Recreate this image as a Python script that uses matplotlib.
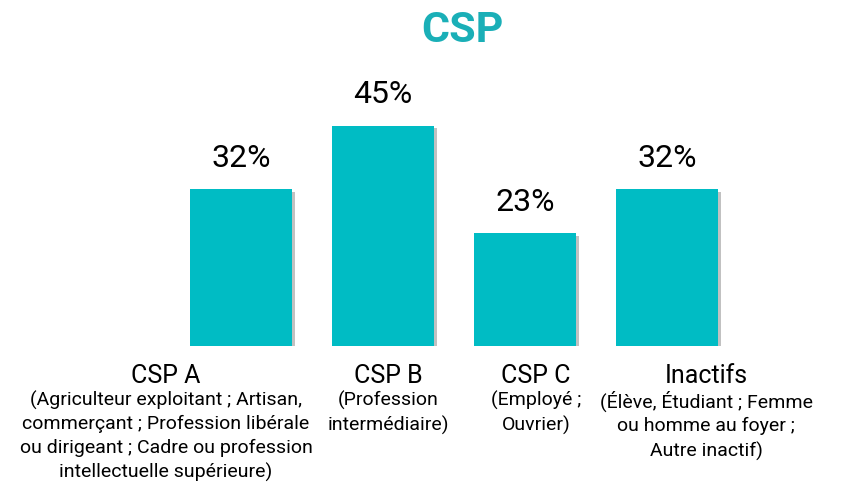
import matplotlib
matplotlib.use("Agg")
import matplotlib.pyplot as plt
import matplotlib.patheffects as pe

categories = ["CSP A", "CSP B", "CSP C", "Inactifs"]
subtitles = [
    "(Agriculteur exploitant ; Artisan,\ncommerçant ; Profession libérale\nou dirigeant ; Cadre ou profession\nintellectuelle supérieure)",
    "(Profession\nintermédiaire)",
    "(Employé ;\nOuvrier)",
    "(Élève, Étudiant ; Femme\nou homme au foyer ;\nAutre inactif)",
]
values = [32, 45, 23, 32]
labels = ["32%", "45%", "23%", "32%"]

plt.rcParams["font.family"] = ["Roboto", "DejaVu Sans"]

W, H = 846, 488
fig = plt.figure(figsize=(W / 100, H / 100), dpi=100)
fig.patch.set_facecolor("white")

# axes placement in pixels
x0, x1 = 170, 738
ybot, ytop = 346, 58
ax = fig.add_axes([x0 / W, (H - ybot) / H, (x1 - x0) / W, (ybot - ytop) / H])
ax.set_xlim(-0.5, 3.5)
ax.set_ylim(0, 58.8)
ax.axis("off")

teal = "#00BCC4"
bars = ax.bar(range(len(values)), values, width=0.72, color=teal, zorder=3)
for b in bars:
    b.set_path_effects([pe.SimplePatchShadow(offset=(2, -2), shadow_rgbFace="#999999", alpha=0.6), pe.Normal()])

for i, (v, lab) in enumerate(zip(values, labels)):
    ax.text(i, v + 3.4, lab, ha="center", va="bottom", fontsize=23, color="black")

# category label anchor positions (pixel centres in the figure)
label_px = [166, 388, 536, 706]
for px, c, s in zip(label_px, categories, subtitles):
    xd = -0.5 + (px - x0) / (x1 - x0) * 4
    ax.annotate(c, xy=(xd, 0), xytext=(0, -13), textcoords="offset points",
                ha="center", va="top", fontsize=18, color="black", annotation_clip=False)
    ax.annotate(s, xy=(xd, 0), xytext=(0, -32), textcoords="offset points",
                ha="center", va="top", fontsize=14, color="black",
                linespacing=1.4, annotation_clip=False)

fig.text(462 / W, 1 - 30 / H, "CSP", ha="center", va="center", fontsize=31,
         fontweight="bold", color="#1AAFB7")

fig.savefig("out.png", dpi=100, facecolor="white")
